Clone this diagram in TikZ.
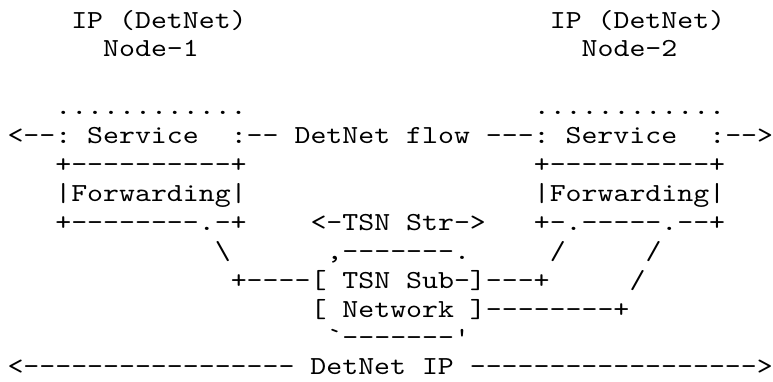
\documentclass[tikz,border=0pt]{standalone}
\usepackage{fontspec}
\newfontfamily\asciifont[FakeStretch=1.168]{lmmono10-regular.otf}
\usetikzlibrary{positioning}
\tikzset{
  ascii/.style={anchor=base west,inner sep=0pt,outer sep=0pt,
    font=\asciifont\fontsize{26}{29}\selectfont\frenchspacing}
}
\begin{document}
\begin{tikzpicture}[x=15.95pt,y=-28.9pt]
\useasboundingbox (-7.5pt,28pt) rectangle (765.5pt,-353pt);
% the two DetNet nodes
\node[ascii] (hostL) at (4,0) {IP (DetNet)};
\node[ascii] (hostR) at (34,0) {IP (DetNet)};
\node[ascii] (nameL) at (6,1) {Node-1};
\node[ascii] (nameR) at (36,1) {Node-2};
\node[ascii] (dotsL) at (3,3) {............};
\node[ascii] (dotsR) at (33,3) {............};
% service layer and the DetNet flow
\node[ascii] (svcL) at (0,4) {<--: Service};
\node[ascii] (flow) at (14,4) {:-- DetNet flow ---: Service};
\node[ascii] (svcR) at (44,4) {:-->};
% forwarding boxes
\node[ascii] (fwdtopL) at (3,5) {+----------+};
\node[ascii] (fwdtopR) at (33,5) {+----------+};
\node[ascii] (fwdL) at (3,6) {|Forwarding|};
\node[ascii] (fwdR) at (33,6) {|Forwarding|};
\node[ascii] (fwdbotL) at (3,7) {+--------.-+};
\node[ascii] (stream) at (19,7) {<-TSN Str->};
\node[ascii] (fwdbotR) at (33,7) {+-.-----.--+};
% TSN sub-network
\node[ascii] (slashL) at (13,8) {\textbackslash};
\node[ascii] (tsntop) at (20,8) {,-------.};
\node[ascii] (slashRa) at (34,8) {/};
\node[ascii] (slashRb) at (40,8) {/};
\node[ascii] (tsnsub) at (14,9) {+----[ TSN Sub-]---+};
\node[ascii] (slashRc) at (39,9) {/};
\node[ascii] (tsnnet) at (19,10) {[ Network ]--------+};
\node[ascii] (tsnbot) at (20,11) {`-------'};
% DetNet IP span
\node[ascii] (span) at (0,12) {<----------------- DetNet IP ------------------>};
\end{tikzpicture}
\end{document}
